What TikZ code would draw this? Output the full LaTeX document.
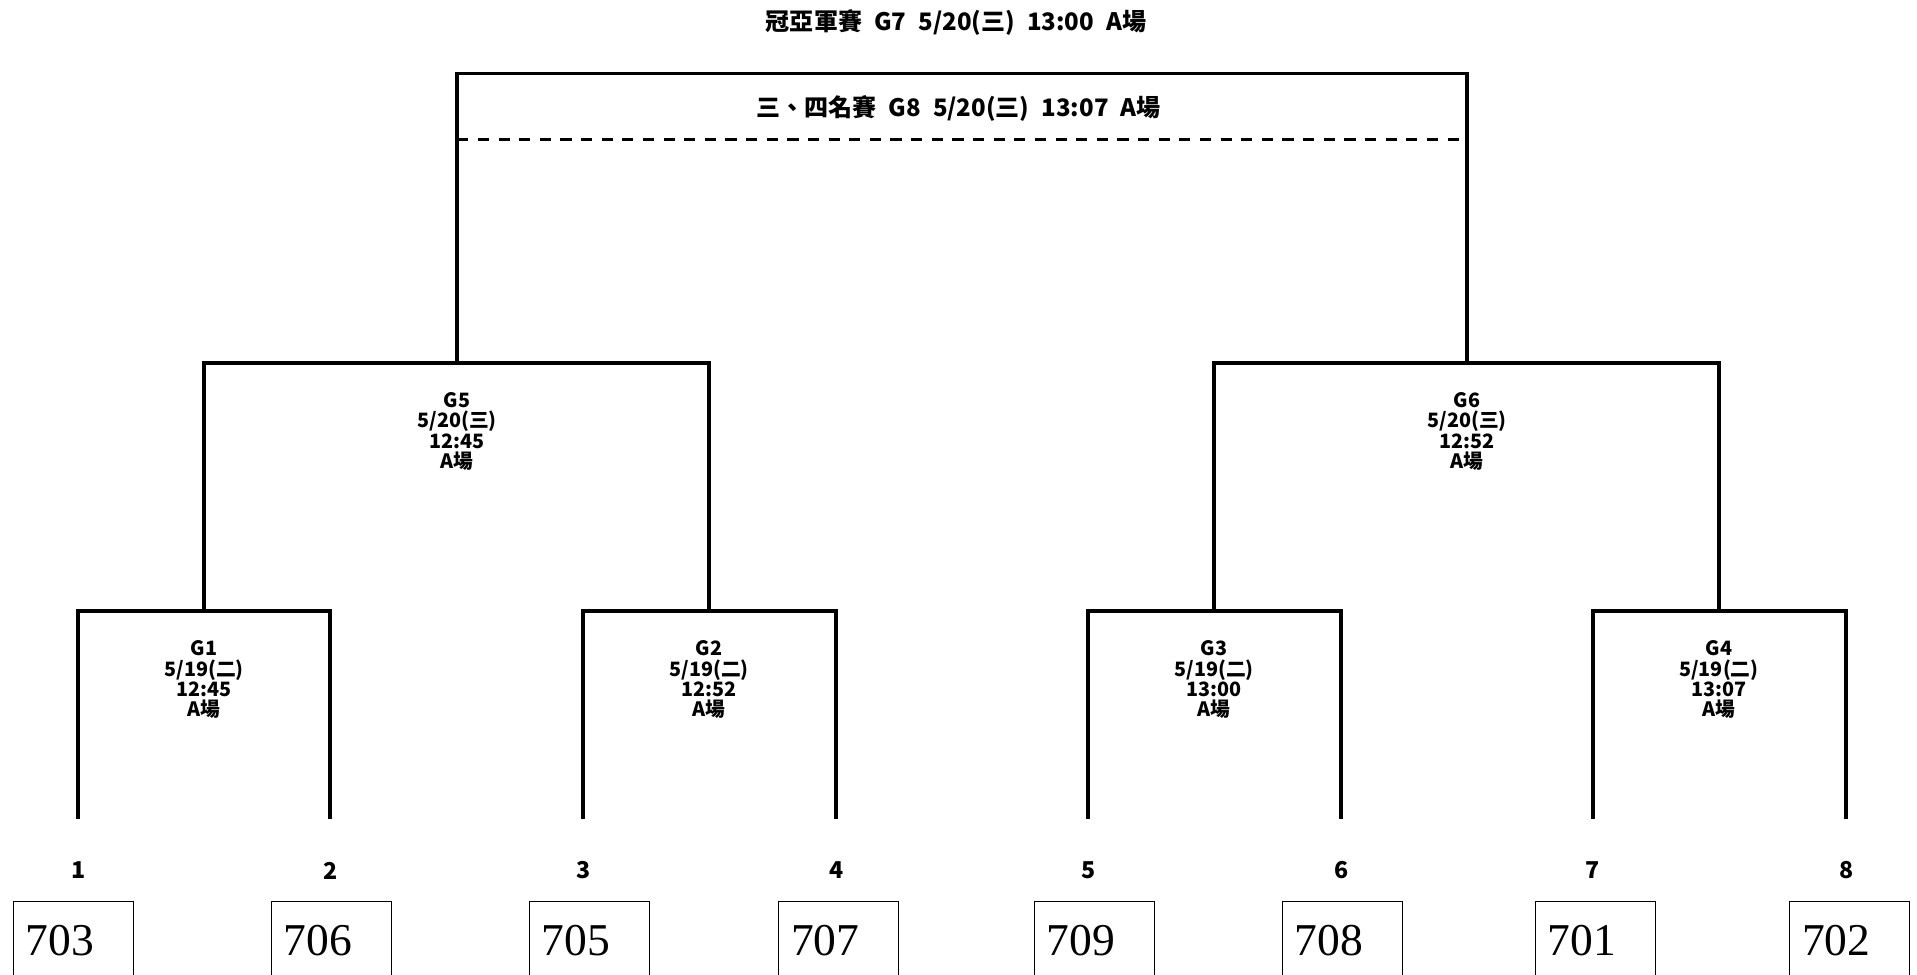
\documentclass[tikz,border=0pt]{standalone}
\usepackage{fontspec}
\usepackage{tikz}
\setmainfont{Noto Sans CJK TC}
\newfontfamily\boxfont{Liberation Serif}
\definecolor{bracketcolor}{RGB}{0,0,0}

\begin{document}
\begin{tikzpicture}[
    x=0.025cm, y=-0.025cm,
    bracket/.style={line width=2.1pt, bracketcolor},
    thirdline/.style={line width=2.1pt, bracketcolor, dash pattern=on 6.5pt off 5.5pt},
    headline/.style={inner sep=0pt, font=\fontsize{14}{15}\selectfont\bfseries},
    gameinfo/.style={align=center, inner sep=0pt, font=\fontsize{11.5}{11.8}\selectfont\bfseries},
    seed/.style={inner sep=0pt, font=\fontsize{13.5}{15}\selectfont\bfseries},
    classbox/.style={draw, line width=0.6pt, anchor=north, minimum width=2.45cm, minimum height=1.6cm, inner xsep=0.25cm, text width=1.95cm, align=left, font=\boxfont\fontsize{26.5}{30}\selectfont}
]
    \useasboundingbox (0,0) rectangle (1568,797);
    \clip (0,0) rectangle (1568,797);

    % Leaf ends
    \foreach \i/\x in {1/64, 2/270, 3/477, 4/684, 5/890, 6/1097, 7/1303, 8/1510}
        \coordinate (p\i) at (\x,670);

    % Match points
    \coordinate (g1) at (167,500);
    \coordinate (g2) at (580,500);
    \coordinate (g3) at (993,500);
    \coordinate (g4) at (1406,500);
    \coordinate (g5) at (374,297);
    \coordinate (g6) at (1200,297);
    \coordinate (g7) at (787,60);
    \coordinate (g8l) at (374,114);
    \coordinate (g8r) at (1200,114);

    % First round
    \draw[bracket] (p1) |- (g1) -| (p2);
    \draw[bracket] (p3) |- (g2) -| (p4);
    \draw[bracket] (p5) |- (g3) -| (p6);
    \draw[bracket] (p7) |- (g4) -| (p8);

    % Semi finals
    \draw[bracket] (g1) |- (g5) -| (g2);
    \draw[bracket] (g3) |- (g6) -| (g4);

    % Final and third place
    \draw[bracket] (g5) |- (g7) -| (g6);
    \draw[thirdline] (g8l) -- (g8r);

    % Titles
    \node[headline] (final) at (782,18) {冠亞軍賽\enspace G7\enspace 5/20(三)\enspace 13:00\enspace A場};
    \node[headline] (third) at (784,89) {三、四名賽\enspace G8\enspace 5/20(三)\enspace 13:07\enspace A場};

    % Game info
    \node[gameinfo] (info5) at (374,353) {G5\\5/20(三)\\12:45\\A場};
    \node[gameinfo] (info6) at (1200,353) {G6\\5/20(三)\\12:52\\A場};
    \node[gameinfo] (info1) at (167,556) {G1\\5/19(二)\\12:45\\A場};
    \node[gameinfo] (info2) at (580,556) {G2\\5/19(二)\\12:52\\A場};
    \node[gameinfo] (info3) at (993,556) {G3\\5/19(二)\\13:00\\A場};
    \node[gameinfo] (info4) at (1406,556) {G4\\5/19(二)\\13:07\\A場};

    % Seeds
    \foreach \i/\x in {1/64, 2/270, 3/477, 4/684, 5/890, 6/1097, 7/1303, 8/1510}
        \node[seed] (s\i) at (\x,712) {\i};

    % Classes
    \node[classbox] (c1) at (60,737) {703};
    \node[classbox] (c2) at (271,737) {706};
    \node[classbox] (c3) at (482,737) {705};
    \node[classbox] (c4) at (686,737) {707};
    \node[classbox] (c5) at (895,737) {709};
    \node[classbox] (c6) at (1098,737) {708};
    \node[classbox] (c7) at (1305,737) {701};
    \node[classbox] (c8) at (1513,737) {702};
\end{tikzpicture}
\end{document}
